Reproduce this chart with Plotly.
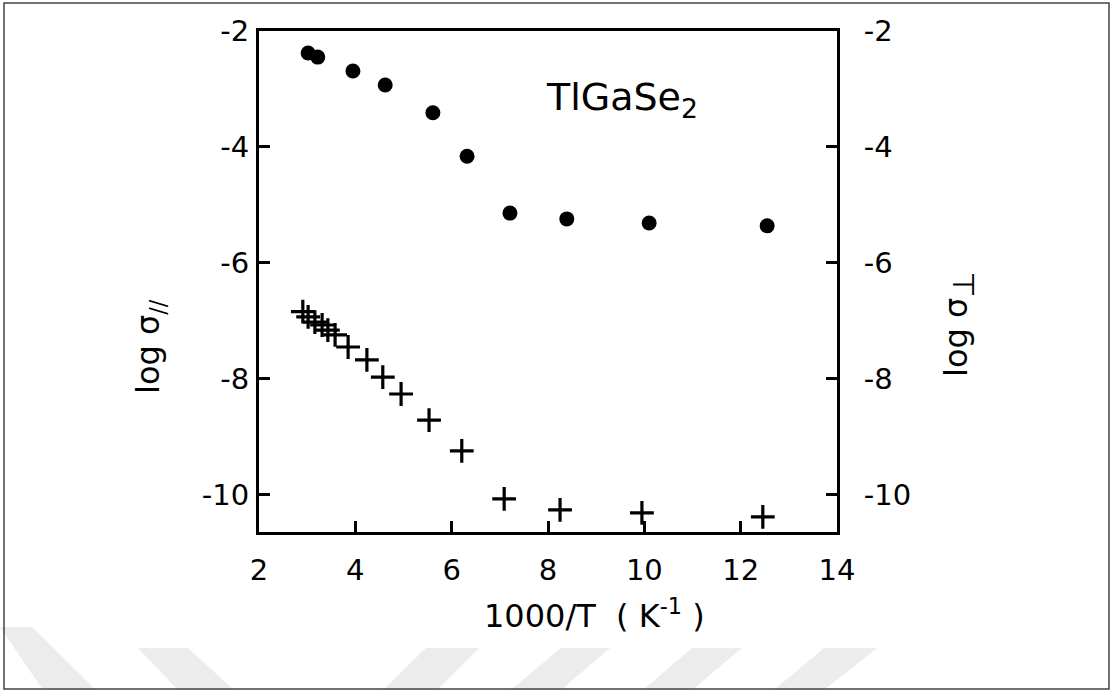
import plotly.graph_objects as go

# ---- data ----
inv_T_circles = [3.02, 3.22, 3.95, 4.62, 5.61, 6.32, 7.21, 8.39, 10.10, 12.55]
log_sigma_circles = [-2.38, -2.45, -2.69, -2.93, -3.41, -4.16, -5.14, -5.24, -5.31, -5.36]

inv_T_crosses = [2.91, 3.02, 3.16, 3.31, 3.43, 3.58, 3.85, 4.24, 4.57, 4.95, 5.53, 6.21,
                 7.09, 8.25, 9.95, 12.46]
log_sigma_crosses = [-6.84, -6.93, -7.02, -7.07, -7.16, -7.24, -7.45, -7.67, -7.97, -8.26,
                     -8.71, -9.24, -10.07, -10.26, -10.31, -10.38]

x_tick_vals = [2, 4, 6, 8, 10, 12, 14]
x_tick_text = ["2", "4", "6", "8", "10", "12", "14"]
y_tick_vals = [-2, -4, -6, -8, -10]
y_tick_text = ["-2", "-4", "-6", "-8", "-10"]

W, H = 1113, 692
L, R, T, B = 259, 837, 31, 532  # plot area in pixels

FONT = "DejaVu Sans"


def px(xp):
    return (xp - L) / (R - L)


def py(yp):
    return (B - yp) / (B - T)


fig = go.Figure()

fig.add_trace(go.Scatter(
    x=inv_T_circles, y=log_sigma_circles, mode="markers",
    marker=dict(symbol="circle", size=15, color="black", line=dict(width=0)),
    yaxis="y", showlegend=False, cliponaxis=False,
))
fig.add_trace(go.Scatter(
    x=inv_T_crosses, y=log_sigma_crosses, mode="markers",
    marker=dict(symbol="cross-thin", size=17, color="black",
                line=dict(width=3.2, color="black")),
    yaxis="y2", showlegend=False, cliponaxis=False,
))

axis_common = dict(
    showline=True, linecolor="black", linewidth=3,
    ticks="inside", ticklen=11, tickwidth=2.5, tickcolor="black",
    showgrid=False, zeroline=False,
    tickfont=dict(family=FONT, size=29, color="black"),
)

fig.update_layout(
    width=W, height=H, autosize=False,
    margin=dict(l=L, r=W - R, t=T, b=H - B, pad=0),
    paper_bgcolor="white", plot_bgcolor="white",
    xaxis=dict(range=[2, 14], tickvals=x_tick_vals, ticktext=x_tick_text,
               mirror=True, ticklabelstandoff=10, **axis_common),
    yaxis=dict(range=[-10.64, -2], tickvals=y_tick_vals, ticktext=y_tick_text,
               ticklabelstandoff=1, **axis_common),
    yaxis2=dict(range=[-10.64, -2], tickvals=y_tick_vals, ticktext=y_tick_text,
                overlaying="y", side="right", matches="y",
                ticklabelstandoff=18, **axis_common),
    font=dict(family=FONT, color="black"),
)

# axis titles and label
ann = dict(xref="paper", yref="paper", showarrow=False, xanchor="center", yanchor="middle")
fig.add_annotation(text="1000/T  ( K<sup>-1</sup> )", x=px(594), y=py(614),
                   font=dict(family=FONT, size=32, color="black"), **ann)
fig.add_annotation(text="log σ<sub>//</sub>", x=px(150), y=py(347), textangle=-90,
                   font=dict(family=FONT, size=32, color="black"), **ann)
fig.add_annotation(text="log σ<sub><span style='font-size:30px'>⊥</span></sub>",
                   x=px(959), y=py(325), textangle=-90,
                   font=dict(family=FONT, size=32, color="black"), **ann)
fig.add_annotation(text="TlGaSe<sub>2</sub>", x=px(622), y=py(100),
                   font=dict(family=FONT, size=38, color="black"), **ann)

# faint watermark stripes at the bottom and outer frame
stripes = [
    [(0, 627), (32, 627), (96, 690), (43, 690)],
    [(138, 648), (188, 648), (234, 690), (178, 690)],
    [(426, 648), (479, 648), (437, 690), (383, 690)],
    [(561, 648), (610, 648), (561, 690), (511, 690)],
    [(692, 648), (742, 648), (692, 690), (643, 690)],
    [(824, 648), (877, 648), (824, 690), (774, 690)],
]
for poly in stripes:
    path = "M " + " L ".join(f"{px(a):.5f},{py(b):.5f}" for a, b in poly) + " Z"
    fig.add_shape(type="path", path=path, xref="paper", yref="paper",
                  fillcolor="#ececec", line=dict(width=0), layer="below")

fig.add_shape(type="rect", xref="paper", yref="paper",
              x0=px(4), x1=px(1109), y0=py(3), y1=py(689),
              line=dict(color="#444444", width=1.5), fillcolor="rgba(0,0,0,0)")

fig.write_html("out.html")
